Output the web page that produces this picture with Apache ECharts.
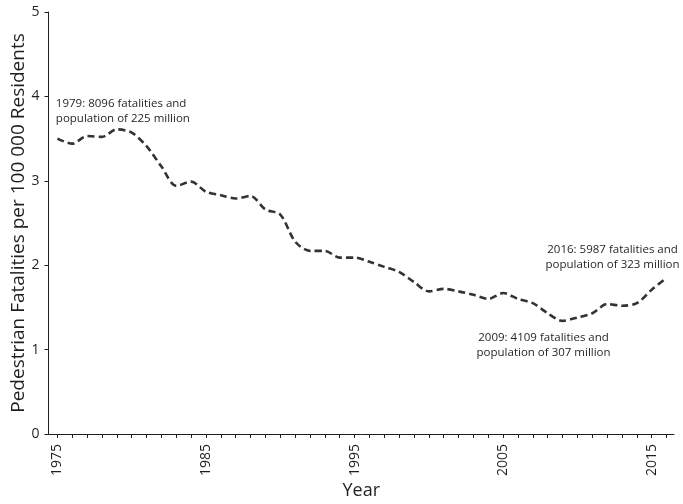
<!DOCTYPE html>
<html>
<head>
<meta charset="utf-8">
<script src="https://cdn.jsdelivr.net/npm/echarts@6/dist/echarts.min.js"></script>
<style>
  html, body { margin: 0; padding: 0; background: #fff; }
  #lineChart { width: 683px; height: 504px; }
</style>
</head>
<body>
<!-- pedestrian fatalities line chart -->
<div id="lineChart"></div>
<script>
const years = [
  1975, 1976, 1977, 1978, 1979, 1980, 1981, 1982, 1983, 1984,
  1985, 1986, 1987, 1988, 1989, 1990, 1991, 1992, 1993, 1994,
  1995, 1996, 1997, 1998, 1999, 2000, 2001, 2002, 2003, 2004,
  2005, 2006, 2007, 2008, 2009, 2010, 2011, 2012, 2013, 2014,
  2015, 2016
]
const ratePer100k = [
  3.50, 3.44, 3.53, 3.52, 3.61, 3.57, 3.41, 3.17, 2.94, 2.99,
  2.87, 2.83, 2.79, 2.82, 2.66, 2.60, 2.28, 2.17, 2.17, 2.09,
  2.09, 2.04, 1.98, 1.92, 1.80, 1.69, 1.72, 1.69, 1.65, 1.60,
  1.67, 1.60, 1.55, 1.43, 1.34, 1.38, 1.43, 1.54, 1.52, 1.55,
  1.71, 1.85
]
const xLabelYears = [1975, 1985, 1995, 2005, 2015]
const noteYears = [1979, 2016, 2009]
const noteTexts = [
  '1979: 8096 fatalities and\npopulation of 225 million',
  '2016: 5987 fatalities and\npopulation of 323 million',
  '2009: 4109 fatalities and\npopulation of 307 million'
]

// label placement for each note (same order as noteYears)
const noteStyles = [
  { align: 'left', verticalAlign: 'bottom', offset: [-61, -3] },
  { align: 'center', verticalAlign: 'bottom', offset: [-54, -6] },
  { align: 'center', verticalAlign: 'top', offset: [-19, 9] }
]

const textColor = '#231f20'
const font = '"Open Sans", sans-serif'

const chart = echarts.init(document.getElementById('lineChart'))

const seriesData = years.map((y, i) => [y, ratePer100k[i]])
const markData = noteYears.map((y, i) => ({
  coord: [y, ratePer100k[years.indexOf(y)]],
  label: {
    show: true,
    formatter: noteTexts[i],
    align: noteStyles[i].align,
    verticalAlign: noteStyles[i].verticalAlign,
    offset: noteStyles[i].offset
  }
}))

const option = {
  animation: false,
  textStyle: { fontFamily: font },
  grid: {
    left: 48.5,
    right: 9,
    top: 12,
    bottom: 70,
    containLabel: false,
    outerBoundsMode: 'none'
  },
  xAxis: {
    type: 'value',
    min: 1974.4,
    max: 2016.5,
    name: 'Year',
    nameLocation: 'middle',
    nameGap: 48,
    nameMoveOverlap: false,
    nameTextStyle: { color: textColor, fontSize: 18, fontFamily: font },
    splitLine: { show: false },
    axisLine: { lineStyle: { color: textColor, width: 1 } },
    axisTick: {
      show: true,
      length: 4,
      customValues: years,
      lineStyle: { color: textColor }
    },
    axisLabel: {
      customValues: xLabelYears,
      rotate: 90,
      margin: 10,
      color: textColor,
      fontSize: 14,
      fontFamily: font,
      formatter: v => String(v)
    }
  },
  yAxis: {
    type: 'value',
    min: 0,
    max: 5,
    interval: 1,
    name: 'Pedestrian Fatalities per 100 000 Residents',
    nameLocation: 'middle',
    nameGap: 20,
    nameMoveOverlap: false,
    nameTextStyle: { color: textColor, fontSize: 19, fontFamily: font },
    splitLine: { show: false },
    axisLine: { show: true, lineStyle: { color: textColor, width: 1 } },
    axisTick: { show: true, length: 4, lineStyle: { color: textColor } },
    axisLabel: { color: textColor, fontSize: 14, margin: 9, fontFamily: font }
  },
  series: [
    {
      type: 'line',
      data: seriesData,
      showSymbol: false,
      smooth: 0.3,
      lineStyle: {
        color: '#333333',
        width: 2.6,
        type: [7, 4]
      },
      markPoint: {
        symbol: 'circle',
        symbolSize: 0,
        silent: true,
        label: {
          color: textColor,
          fontSize: 11.5,
          lineHeight: 15,
          fontFamily: font
        },
        data: markData
      }
    }
  ]
}
chart.setOption(option)
</script>
</body>
</html>
